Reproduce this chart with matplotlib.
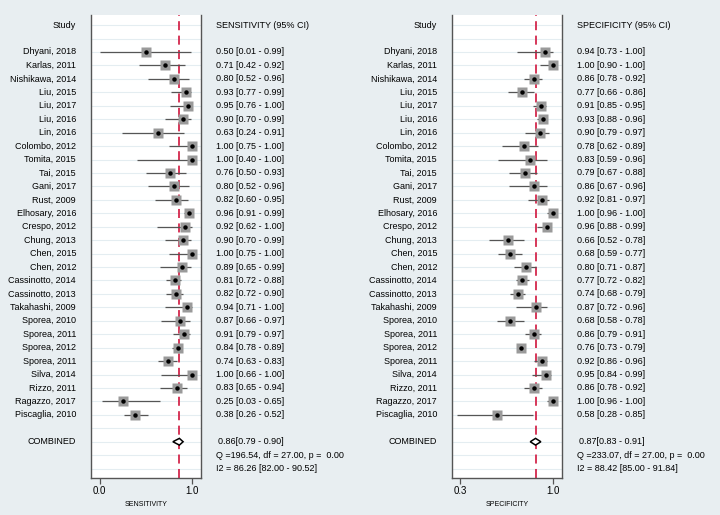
import matplotlib.pyplot as plt
from matplotlib.patches import Polygon

plt.rcParams['font.family'] = ['Liberation Sans', 'DejaVu Sans']

studies = ["Dhyani, 2018", "Karlas, 2011", "Nishikawa, 2014", "Liu, 2015", "Liu, 2017",
           "Liu, 2016", "Lin, 2016", "Colombo, 2012", "Tomita, 2015", "Tai, 2015",
           "Gani, 2017", "Rust, 2009", "Elhosary, 2016", "Crespo, 2012", "Chung, 2013",
           "Chen, 2015", "Chen, 2012", "Cassinotto, 2014", "Cassinotto, 2013",
           "Takahashi, 2009", "Sporea, 2010", "Sporea, 2011", "Sporea, 2012",
           "Sporea, 2011", "Silva, 2014", "Rizzo, 2011", "Ragazzo, 2017", "Piscaglia, 2010"]

sens = [0.50, 0.71, 0.80, 0.93, 0.95, 0.90, 0.63, 1.00, 1.00, 0.76, 0.80, 0.82, 0.96, 0.92,
        0.90, 1.00, 0.89, 0.81, 0.82, 0.94, 0.87, 0.91, 0.84, 0.74, 1.00, 0.83, 0.25, 0.38]
sens_lo = [0.01, 0.42, 0.52, 0.77, 0.76, 0.70, 0.24, 0.75, 0.40, 0.50, 0.52, 0.60, 0.91, 0.62,
           0.70, 0.75, 0.65, 0.72, 0.72, 0.71, 0.66, 0.79, 0.78, 0.63, 0.66, 0.65, 0.03, 0.26]
sens_hi = [0.99, 0.92, 0.96, 0.99, 1.00, 0.99, 0.91, 1.00, 1.00, 0.93, 0.96, 0.95, 0.99, 1.00,
           0.99, 1.00, 0.99, 0.88, 0.90, 1.00, 0.97, 0.97, 0.89, 0.83, 1.00, 0.94, 0.65, 0.52]

spec = [0.94, 1.00, 0.86, 0.77, 0.91, 0.93, 0.90, 0.78, 0.83, 0.79, 0.86, 0.92, 1.00, 0.96,
        0.66, 0.68, 0.80, 0.77, 0.74, 0.87, 0.68, 0.86, 0.76, 0.92, 0.95, 0.86, 1.00, 0.58]
spec_lo = [0.73, 0.90, 0.78, 0.66, 0.85, 0.88, 0.79, 0.62, 0.59, 0.67, 0.67, 0.81, 0.96, 0.88,
           0.52, 0.59, 0.71, 0.72, 0.68, 0.72, 0.58, 0.79, 0.73, 0.86, 0.84, 0.78, 0.96, 0.28]
spec_hi = [1.00, 1.00, 0.92, 0.86, 0.95, 0.96, 0.97, 0.89, 0.96, 0.88, 0.96, 0.97, 1.00, 0.99,
           0.78, 0.77, 0.87, 0.82, 0.79, 0.96, 0.78, 0.91, 0.79, 0.96, 0.99, 0.92, 1.00, 0.85]

sens_comb = (0.86, 0.79, 0.90)
spec_comb = (0.87, 0.83, 0.91)
sens_het = "Q =196.54, df = 27.00, p =  0.00"
spec_het = "Q =233.07, df = 27.00, p =  0.00"
sens_i2 = "I2 = 86.26 [82.00 - 90.52]"
spec_i2 = "I2 = 88.42 [85.00 - 91.84]"

bg = '#e8eef1'
fs = 6.5
fig = plt.figure(figsize=(7.2, 5.15), dpi=100, facecolor=bg)


def panel(left, est, lo, hi, comb, het, i2, name, xlim, ticks):
    ax = fig.add_axes([left, 0.0718, 0.1532, 0.899])
    ax.set_facecolor('white')
    ax.set_xlim(*xlim)
    ax.set_ylim(31.7, -2.75)
    n = len(studies)
    # light grid lines on every row
    for r in range(-2, 32):
        ax.axhline(r, color='#e4edf1', lw=0.8, zorder=0)
    ax.axvline(comb[0], color='#d3274c', lw=1.3, ls=(0, (5, 3)), zorder=1)
    rows = list(range(n))
    ax.hlines(rows, lo, hi, color='#555555', lw=0.9, zorder=2)
    ax.plot(est, rows, 's', ms=6.5, color='#9a9a9a', mec='none', zorder=3)
    ax.plot(est, rows, 'o', ms=2.2, color='black', zorder=4)
    yc = n + 1
    h = 0.25
    dia = Polygon([(comb[1], yc), (comb[0], yc - h), (comb[2], yc), (comb[0], yc + h)],
                  closed=True, facecolor='white', edgecolor='black', lw=1.1, zorder=5)
    ax.add_patch(dia)

    ax.spines['top'].set_visible(False)
    for side in ['left', 'right', 'bottom']:
        ax.spines[side].set_color('#555555')
        ax.spines[side].set_linewidth(1.0)
    ax.set_yticks([])
    ax.set_xticks(ticks)
    ax.set_xticklabels([f"{t:.1f}" for t in ticks])
    ax.tick_params(axis='x', length=4, width=0.9, color='#555555', labelsize=7, pad=2)
    ax.set_xlabel(name, fontsize=5, labelpad=3)

    tr = ax.get_yaxis_transform()
    ax.text(-0.133, -2, "Study", transform=tr, ha='right', va='center', fontsize=fs)
    ax.text(1.133, -2, f"{name} (95% CI)", transform=tr, ha='left', va='center', fontsize=fs)
    for i, s in enumerate(studies):
        ax.text(-0.133, i, s, transform=tr, ha='right', va='center', fontsize=fs)
        ax.text(1.133, i, f"{est[i]:.2f} [{lo[i]:.2f} - {hi[i]:.2f}]", transform=tr,
                ha='left', va='center', fontsize=fs)
    ax.text(-0.133, yc, "COMBINED", transform=tr, ha='right', va='center', fontsize=fs)
    ax.text(1.15, yc, f"{comb[0]:.2f}[{comb[1]:.2f} - {comb[2]:.2f}]", transform=tr,
            ha='left', va='center', fontsize=fs)
    ax.text(1.133, yc + 1, het, transform=tr, ha='left', va='center', fontsize=fs)
    ax.text(1.133, yc + 2, i2, transform=tr, ha='left', va='center', fontsize=fs)
    return ax


panel(0.126, sens, sens_lo, sens_hi, sens_comb, sens_het, sens_i2, "SENSITIVITY",
      (-0.095, 1.093), [0.0, 1.0])
panel(0.6274, spec, spec_lo, spec_hi, spec_comb, spec_het, spec_i2, "SPECIFICITY",
      (0.237, 1.070), [0.3, 1.0])

fig.savefig('out.png', dpi=100, facecolor=bg)
